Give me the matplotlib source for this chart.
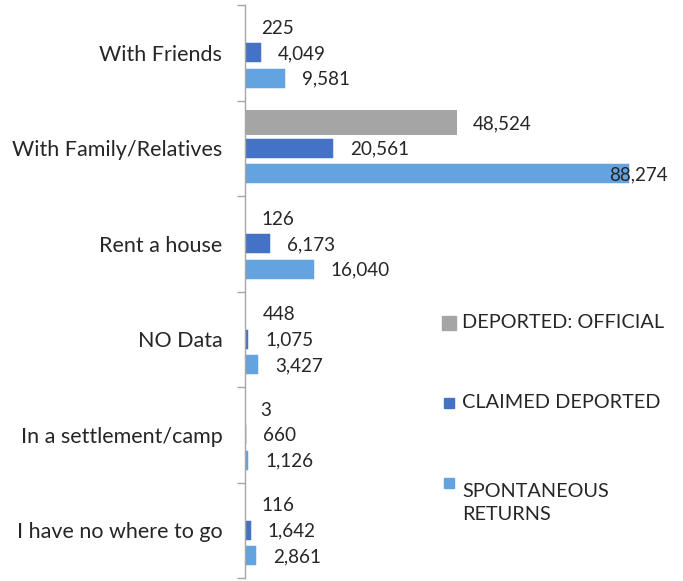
import numpy as np
import matplotlib
matplotlib.use("Agg")
import matplotlib.pyplot as plt
from matplotlib.lines import Line2D

# data
categories = ["With Friends", "With Family/Relatives", "Rent a house", "NO Data",
              "In a settlement/camp", "I have no where to go"]
series_names = ["DEPORTED: OFFICIAL", "CLAIMED DEPORTED", "SPONTANEOUS\nRETURNS"]
deported_official = [225, 48524, 126, 448, 3, 116]
claimed_deported = [4049, 20561, 6173, 1075, 660, 1642]
spontaneous_returns = [9581, 88274, 16040, 3427, 1126, 2861]

colors = ["#A5A5A5", "#4472C4", "#62A3E0"]
plt.rcParams['font.family'] = ['Lato', 'DejaVu Sans']
txt_color = "#262626"

fig = plt.figure(figsize=(6.83, 5.81), dpi=100)
ax = fig.add_axes([244.5 / 683, 3 / 581, 437 / 683, 573 / 581])

y = np.arange(len(categories))
step = 0.267
heights = [0.26, 0.22, 0.22]
all_series = [deported_official, claimed_deported, spontaneous_returns]
for i, (vals, col) in enumerate(zip(all_series, colors)):
    pos = y + (i - 1) * step
    edge = "none" if i == 0 else "white"
    bars = ax.barh(pos, vals, height=heights[i], color=col, edgecolor=edge, linewidth=1.1)
    for b, v in zip(bars, vals):
        xo = 16
        if v > 80000:
            xo = -21  # Excel pulls this one back inside the plot
        ax.annotate(f"{v:,}", (b.get_width(), b.get_y() + b.get_height() / 2),
                    xytext=(xo, -1), textcoords="offset pixels",
                    ha="left", va="center", fontsize=13.6, color=txt_color)

ax.set_xlim(0, 100000)
ax.set_ylim(len(categories) - 0.5, -0.5)
ax.set_xticks([])
ax.set_yticks(y)
ax.set_yticklabels(categories, fontsize=15.5, color=txt_color)
ax.set_yticks(np.arange(-0.5, len(categories)), minor=True)
ax.tick_params(axis="y", which="major", length=0, pad=16)
ax.tick_params(axis="y", which="minor", length=6, color="#A6A6A6", width=1)
for s in ["top", "right", "bottom"]:
    ax.spines[s].set_visible(False)
ax.spines["left"].set_color("#A6A6A6")
ax.spines["left"].set_linewidth(1)

# legend, laid out like the Excel one
leg_y = [323, 403, 483]
msize = [10, 7, 7]
for name, col, ly, ms in zip(series_names, colors, leg_y, msize):
    fig.add_artist(Line2D([449 / 683], [1 - ly / 581], marker="s", markersize=ms,
                          color=col, linestyle="none", transform=fig.transFigure))
    fig.text(462 / 683, 1 - ly / 581, name, fontsize=14.3, color=txt_color,
             va="top" if "\n" in name else "center", linespacing=1.4)

fig.savefig("out.png", dpi=100)
